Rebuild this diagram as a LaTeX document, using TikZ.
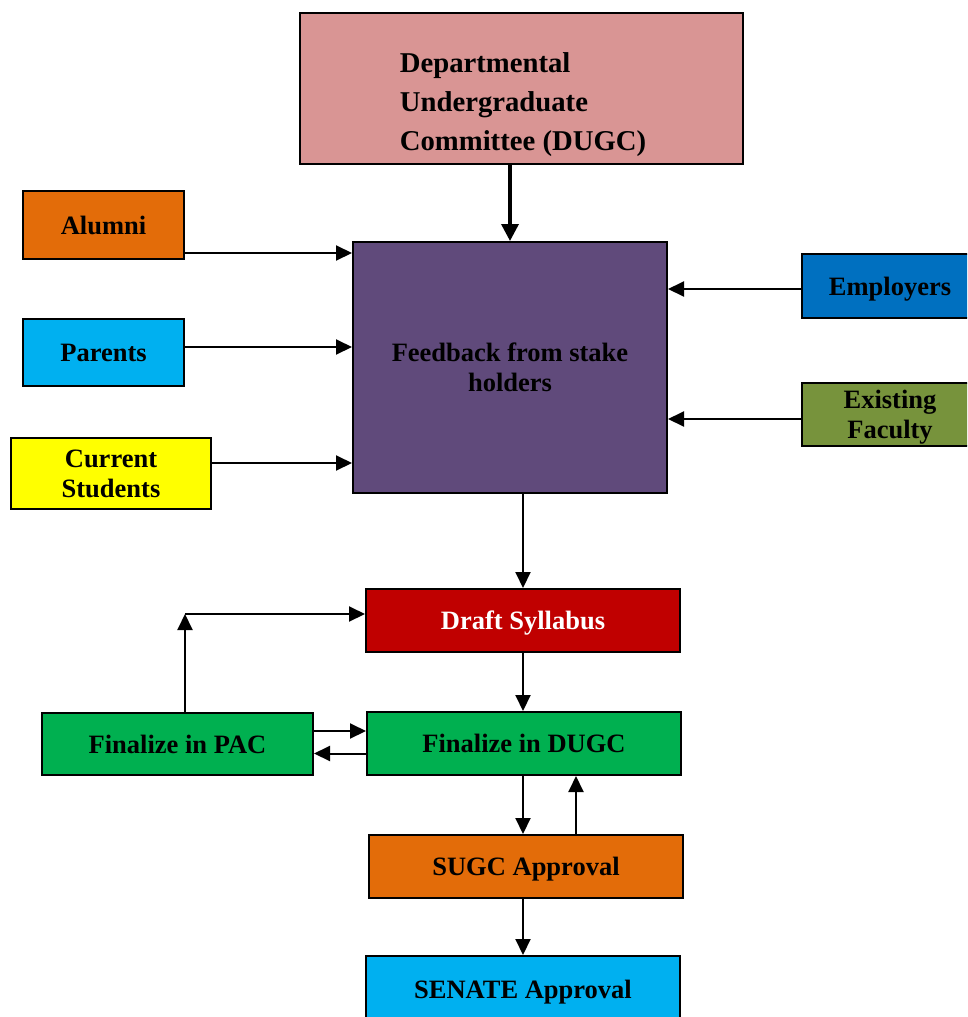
\documentclass[tikz,border=0pt]{standalone}
\usepackage{fontspec}
\setmainfont{Liberation Serif}
\usetikzlibrary{arrows.meta,calc}
\definecolor{dugccol}{HTML}{D99594}
\definecolor{fbcol}{HTML}{604A7B}
\definecolor{orangecol}{HTML}{E36C09}
\definecolor{skycol}{HTML}{00B0F0}
\definecolor{yellowcol}{HTML}{FFFF00}
\definecolor{bluecol}{HTML}{0070C0}
\definecolor{olivecol}{HTML}{77933C}
\definecolor{redcol}{HTML}{C00000}
\definecolor{greencol}{HTML}{00B050}
\tikzset{
  box/.style={draw=black, line width=2pt, rectangle, inner sep=0pt, align=center,
    text depth=0pt, font=\bfseries\fontsize{26.5}{30}\selectfont},
  arr/.style={line width=2pt, -{Triangle[length=16pt,width=15pt]}},
  thickarr/.style={line width=3.5pt, -{Triangle[length=17pt,width=17pt]}},
}
\begin{document}
\begin{tikzpicture}[x=1pt,y=-1pt]
\useasboundingbox (0,0) rectangle (967,1017);
\clip (0,0) rectangle (967,1017);
\fill[white] (0,0) rectangle (967,1017);

% committee at the top
\node[box, fill=dugccol, minimum width=443, minimum height=151] (dugc) at (521.5,88.5) {};
\node[align=left, inner sep=0pt, font=\bfseries\fontsize{28.7}{39}\selectfont] (dugctext) at (523,105)
  {Departmental\\Undergraduate\\Committee (DUGC)};

% stakeholder feedback
\node[box, fill=fbcol, minimum width=314, minimum height=251] (fb) at (510,367.5)
  {Feedback from stake\\holders};

% stakeholders on the left
\node[box, fill=orangecol, minimum width=161, minimum height=68] (alumni) at (103.5,225) {Alumni};
\node[box, fill=skycol, minimum width=161, minimum height=67] (parents) at (103.5,352.5) {Parents};
\node[box, fill=yellowcol, minimum width=200, minimum height=71] (students) at (111,473.5) {Current\\Students};

% stakeholders on the right
\node[box, fill=bluecol, minimum width=176, minimum height=64] (employers) at (890,286) {Employers};
\node[box, fill=olivecol, minimum width=176, minimum height=63] (faculty) at (890,414.5) {Existing\\Faculty};

% approval chain
\node[box, fill=redcol, text=white, minimum width=314, minimum height=63] (draft) at (523,620.5) {Draft Syllabus};
\node[box, fill=greencol, minimum width=314, minimum height=63] (fdugc) at (524,743.5) {Finalize in DUGC};
\node[box, fill=greencol, minimum width=271, minimum height=62] (pac) at (177.5,744) {Finalize in PAC};
\node[box, fill=orangecol, minimum width=314, minimum height=63] (sugc) at (526,866.5) {SUGC Approval};
\node[box, fill=skycol, minimum width=314, minimum height=66] (senate) at (523,989) {SENATE Approval};

% connectors
\draw[thickarr] (fb.north |- dugc.south) -- (fb.north);

\coordinate (a1) at ($(alumni.east)+(0,28)$);
\draw[arr] (a1) -- (a1 -| fb.west);
\coordinate (p1) at ($(parents.east)+(0,-5.5)$);
\draw[arr] (p1) -- (p1 -| fb.west);
\coordinate (s1) at ($(students.east)+(0,-10.5)$);
\draw[arr] (s1) -- (s1 -| fb.west);

\coordinate (e1) at ($(employers.west)+(0,3)$);
\draw[arr] (e1) -- (e1 -| fb.east);
\coordinate (f1) at ($(faculty.west)+(0,4.5)$);
\draw[arr] (f1) -- (f1 -| fb.east);

\draw[arr] (draft.north |- fb.south) -- (draft.north);
\draw[arr] (draft.south) -- (draft.south |- fdugc.north);

\coordinate (pd1) at ($(pac.east)+(0,-13)$);
\draw[arr] (pd1) -- (pd1 -| fdugc.west);
\coordinate (dp1) at ($(fdugc.west)+(0,10)$);
\draw[arr] (dp1) -- (dp1 -| pac.east);

\coordinate (pacup) at ($(pac.north)+(7.5,0)$);
\coordinate (draftin) at ($(draft.west)+(0,-6.5)$);
\coordinate (corner) at (pacup |- draftin);
\draw[arr] (pacup) -- (corner);
\draw[arr] (corner) -- (draftin);

\coordinate (ds1) at ($(fdugc.south)+(-1,0)$);
\draw[arr] (ds1) -- (ds1 |- sugc.north);
\coordinate (sd1) at ($(sugc.north)+(50,0)$);
\draw[arr] (sd1) -- (sd1 |- fdugc.south);

\coordinate (ss1) at ($(sugc.south)+(-3,0)$);
\draw[arr] (ss1) -- (ss1 |- senate.north);
\end{tikzpicture}
\end{document}
